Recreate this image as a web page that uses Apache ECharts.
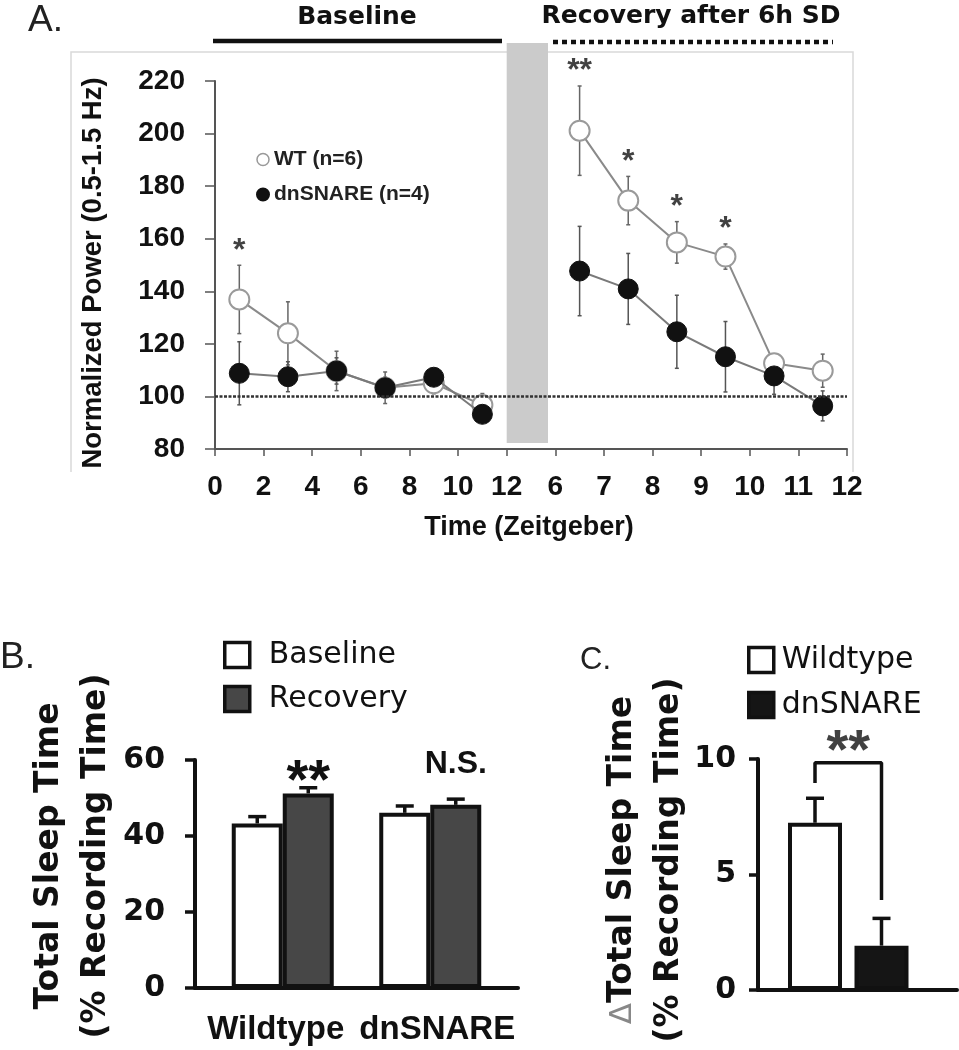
<!DOCTYPE html>
<html><head><meta charset="utf-8">
<script src="https://cdn.jsdelivr.net/npm/echarts@6/dist/echarts.min.js"></script>
<style>html,body{margin:0;padding:0;background:#fff}#c{width:959px;height:1050px}</style>
</head><body><div id="c"></div>
<script>
// ---------- Panel A data ----------
const xTickLabelsA = ['0','2','4','6','8','10','12','6','7','8','9','10','11','12'];
const xPosA   = [0.5,1.5,2.5,3.5,4.5,5.5,7.5,8.5,9.5,10.5,11.5,12.5];
const wtMeanA = [136.9,124.0,109.7,103.3,105.0,96.7,201.1,174.5,158.6,153.2,112.6,109.8];
const wtErrA  = [13,12,7.5,6,4,4.4,17,9.2,7.9,4.8,3,6.3];
const dnMeanA = [108.8,107.5,109.7,103.3,107.3,93.2,147.7,140.9,124.6,115.1,107.8,96.4];
const dnErrA  = [12,5.7,5,4,3,3,17,13.5,13.9,13.4,7,5.7];
const sigA    = ['*','','','','','','**','*','*','*','',''];
const breakAfterA = 5; // baseline points end here; recovery starts after
const sdBandA = [6, 6.85, 82.3, 234.5]; // sleep deprivation period (x0,x1,y0,y1)
const refLineA = 100;

// ---------- Panel B data ----------
const groupsB = ['Wildtype','dnSNARE'];
const baselineB = [43.3, 46.1];
const baselineErrB = [1.8, 1.8];
const recoveryB = [51.2, 48.2];
const recoveryErrB = [1.5, 1.5];
const sigB = ['**','N.S.'];

// ---------- Panel C data ----------
const groupsC = ['Wildtype','dnSNARE'];
const deltaC = [7.24, 1.92];
const deltaErrC = [1.06, 1.18];
const bracketC = [[0, 8.96],[0, 9.84],[1, 9.84],[1, 3.90]];
const sigC = '**';

const ARIAL = 'Liberation Sans';
const DJV = 'DejaVu Sans';

function lineData(means) {
  const out = [];
  xPosA.forEach((x, i) => {
    out.push([x, means[i]]);
    if (i === breakAfterA) out.push([x, null]);
  });
  return out;
}
function errBarsAB(color, width, cap) {
  return function (params, api) {
    const x = api.value(0), v = api.value(1), e = api.value(2);
    const top = api.coord([x, v + e]);
    const bot = api.coord([x, v - e]);
    return {type:'group', children:[
      {type:'line', shape:{x1:top[0], y1:top[1], x2:bot[0], y2:bot[1]}, style:{stroke:color, lineWidth:width}},
      {type:'line', shape:{x1:top[0]-cap, y1:top[1], x2:top[0]+cap, y2:top[1]}, style:{stroke:color, lineWidth:width}},
      {type:'line', shape:{x1:bot[0]-cap, y1:bot[1], x2:bot[0]+cap, y2:bot[1]}, style:{stroke:color, lineWidth:width}}
    ]};
  };
}
function errBarsUp(xoff) {
  return function (params, api) {
    const x = api.value(0), v = api.value(1), e = api.value(2);
    const b = api.coord([x, v]);
    const t = api.coord([x, v + e]);
    const cx = b[0] + xoff;
    return {type:'group', children:[
      {type:'line', shape:{x1:cx, y1:b[1], x2:cx, y2:t[1]}, style:{stroke:'#111', lineWidth:3.5}},
      {type:'line', shape:{x1:cx-9, y1:t[1], x2:cx+9, y2:t[1]}, style:{stroke:'#111', lineWidth:3.5}}
    ]};
  };
}

const chart = echarts.init(document.getElementById('c'), null, {renderer:'canvas'});

const axisA = {color:'#555', width:2};
const option = {
  animation:false,
  backgroundColor:'#fff',
  grid:[
    {left:215, top:81, width:632, height:368, containLabel:false, outerBoundsMode:'none'},
    {left:195, top:760, width:323, height:228, containLabel:false, outerBoundsMode:'none'},
    {left:209, top:760, width:295, height:228, containLabel:false, outerBoundsMode:'none'},
    {left:758, top:759, width:199, height:231, containLabel:false, outerBoundsMode:'none'},
    {left:781.75, top:759, width:133, height:231, containLabel:false, outerBoundsMode:'none'}
  ],
  xAxis:[
    {gridIndex:0, type:'value', min:0, max:13, interval:1,
     axisLine:{lineStyle:axisA}, axisTick:{length:7, lineStyle:{color:'#555', width:1.5}},
     splitLine:{show:false},
     axisLabel:{formatter:(v)=>xTickLabelsA[Math.round(v)], fontFamily:ARIAL, fontWeight:'bold', fontSize:28, color:'#111', margin:24, hideOverlap:false}},
    {gridIndex:1, type:'category', data:groupsB,
     axisLine:{lineStyle:{color:'#111', width:4}}, axisTick:{show:false},
     axisLabel:{interval:0, hideOverlap:false, fontFamily:ARIAL, fontWeight:'bold', fontSize:33, color:'#111', margin:25}},
    {gridIndex:2, type:'category', data:groupsB, show:false},
    {gridIndex:3, type:'category', data:groupsC,
     axisLine:{lineStyle:{color:'#111', width:4}}, axisTick:{show:false}, axisLabel:{show:false}},
    {gridIndex:4, type:'value', min:-0.5, max:1.5, show:false, splitLine:{show:false}}
  ],
  yAxis:[
    {gridIndex:0, type:'value', min:80, max:220, interval:20,
     axisLine:{show:true, lineStyle:axisA}, axisTick:{show:true, length:10, lineStyle:{color:'#555', width:1.5}},
     splitLine:{show:false},
     axisLabel:{fontFamily:ARIAL, fontWeight:'bold', fontSize:28, color:'#111', margin:30}},
    {gridIndex:1, type:'value', min:0, max:60, interval:20,
     axisLine:{show:true, lineStyle:{color:'#111', width:4}}, axisTick:{show:true, length:10, lineStyle:{color:'#111', width:3.5}},
     splitLine:{show:false},
     axisLabel:{fontFamily:DJV, fontWeight:'bold', fontSize:30, color:'#111', margin:30}},
    {gridIndex:2, type:'value', min:0, max:60, show:false, splitLine:{show:false}},
    {gridIndex:3, type:'value', min:0, max:10, interval:5,
     axisLine:{show:true, lineStyle:{color:'#111', width:4}}, axisTick:{show:true, length:9, lineStyle:{color:'#111', width:3.5}},
     splitLine:{show:false},
     axisLabel:{fontFamily:DJV, fontWeight:'bold', fontSize:30, color:'#111', margin:22}},
    {gridIndex:4, type:'value', min:0, max:10, show:false, splitLine:{show:false}}
  ],
  legend:[
    {orient:'vertical', left:251, top:144, itemWidth:12, itemHeight:12, itemGap:14, icon:'circle',
     data:[{name:'WT (n=6)', itemStyle:{color:'#fff', borderColor:'#999', borderWidth:1.5}}, {name:'dnSNARE (n=4)', itemStyle:{color:'#111'}}],
     textStyle:{fontFamily:ARIAL, fontWeight:'bold', fontSize:21, color:'#222'}, selectedMode:false},
    {orient:'vertical', left:218, top:635, itemWidth:25, itemHeight:25, itemGap:14, icon:'rect',
     data:[{name:'Baseline', itemStyle:{color:'#fff', borderColor:'#111', borderWidth:3.5}}, {name:'Recovery', itemStyle:{color:'#474747', borderColor:'#111', borderWidth:3.5}}],
     textStyle:{fontFamily:DJV, fontSize:30, color:'#111', padding:[0,0,0,14]}, selectedMode:false},
    {orient:'vertical', left:742, top:640, itemWidth:25, itemHeight:25, itemGap:15, icon:'rect',
     data:[{name:'Wildtype', itemStyle:{color:'#fff', borderColor:'#111', borderWidth:3.5}}, {name:'dnSNARE', itemStyle:{color:'#151515', borderColor:'#111', borderWidth:3.5}}],
     textStyle:{fontFamily:DJV, fontSize:30, color:'#111', padding:[0,0,0,3]}, selectedMode:false}
  ],
  graphic:[
    {type:'polyline', silent:true, shape:{points:[[71,472],[71,52],[853,52],[853,472]]}, style:{stroke:'#d9d9d9', lineWidth:1.5, fill:null}},
    {type:'text', left:28, top:2, style:{text:'A.', font:'37px "Liberation Sans"', fill:'#222'}},
    {type:'text', x:357, y:17, style:{text:'Baseline', font:'bold 25px "DejaVu Sans"', fill:'#111', align:'center', verticalAlign:'middle'}},
    {type:'text', x:691, y:16, style:{text:'Recovery after 6h SD', font:'bold 25px "DejaVu Sans"', fill:'#111', align:'center', verticalAlign:'middle'}},
    {type:'line', silent:true, shape:{x1:213, y1:41, x2:502, y2:41}, style:{stroke:'#111', lineWidth:4.5}},
    {type:'line', silent:true, shape:{x1:553, y1:42, x2:833, y2:42}, style:{stroke:'#111', lineWidth:4.5, lineDash:[5,4]}},
    {type:'text', x:93, y:273, rotation:Math.PI/2, style:{text:'Normalized Power (0.5-1.5 Hz)', font:'bold 27.5px "Liberation Sans"', fill:'#111', align:'center', verticalAlign:'middle'}},
    {type:'text', x:529, y:528, style:{text:'Time (Zeitgeber)', font:'bold 27px "Liberation Sans"', fill:'#111', align:'center', verticalAlign:'middle'}},
    {type:'text', x:0, y:658, style:{text:'B.', font:'37px "Liberation Sans"', fill:'#222', verticalAlign:'middle'}},
    {type:'text', x:73, y:856, rotation:Math.PI/2, style:{text:'Total Sleep Time\n(% Recording Time)', font:'bold 33px "DejaVu Sans"', lineHeight:47, fill:'#111', align:'center', verticalAlign:'middle'}},
    {type:'text', x:580, y:660, style:{text:'C.', font:'31px "Liberation Sans"', fill:'#222', verticalAlign:'middle'}},
    {type:'text', x:646, y:860, rotation:Math.PI/2, style:{
      text:'{d|Δ}{b|Total Sleep Time}\n{b|(% Recording Time)}', align:'center', verticalAlign:'middle',
      rich:{d:{fontFamily:DJV, fontSize:31, fill:'#888', color:'#888', lineHeight:47}, b:{fontFamily:DJV, fontWeight:'bold', fontSize:33, fill:'#111', color:'#111', lineHeight:47}}}}
  ],
  series:[
    // Panel A
    {type:'custom', name:'sdBand', xAxisIndex:0, yAxisIndex:0, silent:true, z:0, clip:false,
     encode:{x:[0,1], y:[2,3]}, data:[sdBandA],
     renderItem:(p, api)=>{const a=api.coord([api.value(0), api.value(3)]); const b=api.coord([api.value(1), api.value(2)]);
       return {type:'rect', shape:{x:a[0], y:a[1], width:b[0]-a[0], height:b[1]-a[1]}, style:{fill:'#cbcbcb'}};}},
    {type:'custom', name:'errWT', xAxisIndex:0, yAxisIndex:0, silent:true, z:1,
     encode:{x:0, y:1}, data:xPosA.map((x,i)=>[x, wtMeanA[i], wtErrA[i]]), renderItem:errBarsAB('#666', 1.5, 2)},
    {type:'custom', name:'errDN', xAxisIndex:0, yAxisIndex:0, silent:true, z:1,
     encode:{x:0, y:1}, data:xPosA.map((x,i)=>[x, dnMeanA[i], dnErrA[i]]), renderItem:errBarsAB('#555', 1.5, 2)},
    {type:'line', name:'WT (n=6)', xAxisIndex:0, yAxisIndex:0, z:2, connectNulls:false,
     data:lineData(wtMeanA), symbol:'circle', symbolSize:20,
     itemStyle:{color:'#fff', borderColor:'#9a9a9a', borderWidth:2}, lineStyle:{color:'#8a8a8a', width:2},
     markLine:{silent:true, symbol:['none','none'], label:{show:false}, lineStyle:{type:[3,1.5], color:'#333', width:2.5},
       data:[{yAxis:refLineA}]}},
    {type:'line', name:'dnSNARE (n=4)', xAxisIndex:0, yAxisIndex:0, z:3, connectNulls:false,
     data:lineData(dnMeanA), symbol:'circle', symbolSize:20,
     itemStyle:{color:'#111', borderColor:'#111', borderWidth:1}, lineStyle:{color:'#7a7a7a', width:2}},
    {type:'scatter', name:'sigA', xAxisIndex:0, yAxisIndex:0, z:4, silent:true,
     symbol:'circle', symbolSize:1, itemStyle:{color:'rgba(0,0,0,0)'},
     data:xPosA.map((x,i)=>({value:[x, wtMeanA[i]+wtErrA[i]], label:{formatter:sigA[i]}})).filter((d,i)=>sigA[i]),
     label:{show:true, position:'top', distance:-2, fontFamily:ARIAL, fontWeight:'bold', fontSize:32, color:'#111'}},

    // Panel B
    {type:'bar', name:'Baseline', xAxisIndex:2, yAxisIndex:2, data:baselineB, barWidth:51, barGap:'0%',
     itemStyle:{color:'#fff', borderColor:'#111', borderWidth:4}},
    {type:'bar', name:'Recovery', xAxisIndex:2, yAxisIndex:2, barWidth:51, barGap:'0%',
     itemStyle:{color:'#474747', borderColor:'#111', borderWidth:4},
     data:recoveryB.map((v,i)=>({value:v, label: sigB[i]==='**'
       ? {show:true, formatter:sigB[i], position:'top', distance:0, offset:[0,17], fontFamily:ARIAL, fontWeight:'bold', fontSize:56, color:'#111'}
       : {show:true, formatter:sigB[i], position:'top', distance:25, fontFamily:ARIAL, fontWeight:'bold', fontSize:32, color:'#111'}}))},
    {type:'custom', name:'errB0', xAxisIndex:2, yAxisIndex:2, silent:true, z:4, encode:{x:0, y:1},
     data:groupsB.map((g,i)=>[i, baselineB[i], baselineErrB[i]]), renderItem:errBarsUp(-25.5)},
    {type:'custom', name:'errB1', xAxisIndex:2, yAxisIndex:2, silent:true, z:4, encode:{x:0, y:1},
     data:groupsB.map((g,i)=>[i, recoveryB[i], recoveryErrB[i]]), renderItem:errBarsUp(25.5)},

    // Panel C
    {type:'bar', name:'Wildtype', xAxisIndex:4, yAxisIndex:4, barWidth:54, barGap:'-100%',
     data:[[0, deltaC[0]]], itemStyle:{color:'#fff', borderColor:'#111', borderWidth:4}},
    {type:'bar', name:'dnSNARE', xAxisIndex:4, yAxisIndex:4, barWidth:54, barGap:'-100%',
     data:[[1, deltaC[1]]], itemStyle:{color:'#151515', borderColor:'#111', borderWidth:4}},
    {type:'custom', name:'errC', xAxisIndex:4, yAxisIndex:4, silent:true, z:4, encode:{x:0, y:1},
     data:groupsC.map((g,i)=>[i, deltaC[i], deltaErrC[i]]), renderItem:errBarsUp(0)},
    {type:'line', name:'bracketC', xAxisIndex:4, yAxisIndex:4, silent:true, z:4, symbol:'none',
     data:bracketC, lineStyle:{color:'#111', width:3.5}},
    {type:'scatter', name:'sigC', xAxisIndex:4, yAxisIndex:4, silent:true, z:4,
     symbol:'circle', symbolSize:1, itemStyle:{color:'rgba(0,0,0,0)'},
     data:[[0.5, bracketC[1][1]]],
     label:{show:true, formatter:sigC, position:'top', distance:0, offset:[0,18], fontFamily:ARIAL, fontWeight:'bold', fontSize:56, color:'#111'}}
  ]
};
chart.setOption(option);
</script>
</body></html>
